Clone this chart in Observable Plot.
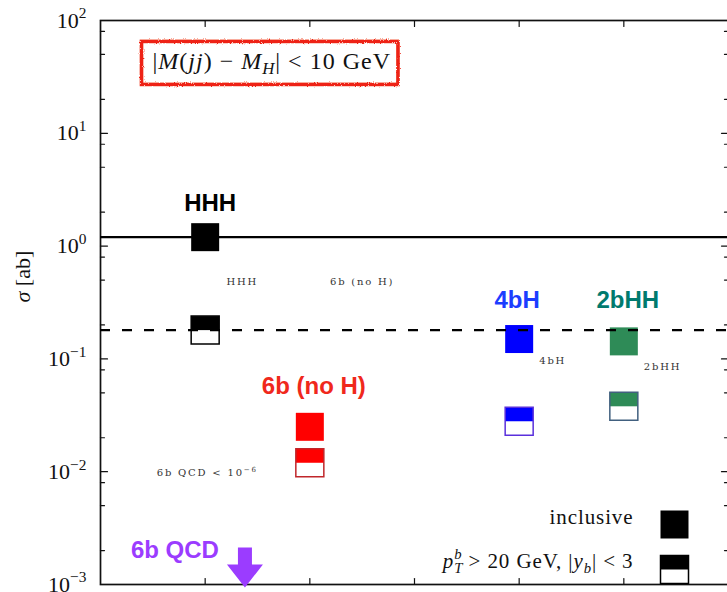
<!DOCTYPE html>
<html>
<head>
<meta charset="utf-8">
<script src="https://cdn.jsdelivr.net/npm/d3@7"></script>
<script src="https://cdn.jsdelivr.net/npm/@observablehq/plot@0.6"></script>
<style>
  html, body { margin: 0; padding: 0; background: #fff; }
  #chart svg { display: block; }
</style>
</head>
<body>
<div id="chart"></div>
<script>
// Cross sections (ab) per process, inclusive and with b-jet cuts
const processes = ["HHH", "6b (no H)", "4bH", "2bHH"];
const slots = [1, 2, 4, 5];
const inclusive = [1.2, 0.025, 0.15, 0.143];
const withCuts = [0.18, 0.012, 0.028, 0.038];

const fillColors = ["#000000", "#ff0000", "#0000ff", "#2e8b57"];
const edgeColors = ["#000000", "#c0262b", "#5a30dc", "#41607f"];
const titleColors = ["#000000", "#f0281c", "#1c3dff", "#007a6e"];
const qcdColor = "#9b3cff";

// Axis ticks
const majorTicks = [1e-3, 1e-2, 1e-1, 1e0, 1e1, 1e2];
const majorLabels = ["10^{−3}", "10^{−2}", "10^{−1}", "10^{0}", "10^{1}", "10^{2}"];
const minorTicks = [2e-3, 5e-3, 8e-3, 2e-2, 5e-2, 8e-2, 0.2, 0.5, 0.8, 2, 5, 8, 20, 50, 80];
const xTicks = [1, 2, 3, 4, 5];

// Small in-plot notes
const noteText = ["HHH", "6b (no H)", "4bH", "2bHH", "6b QCD < 10^{−6}"];
const noteX = [1.355, 2.5, 4.32, 5.37, 1.02];
const noteY = [0.478, 0.478, 0.0955, 0.0843, 0.0097];

// 6b QCD lies far below the plotted range
const qcdX = 1.38;
const qcdLabel = "6b QCD";

const cutLabel = "|$M$($jj$) − $M$_{$H$}| < 10 GeV";
const legendLabels = ["inclusive", "$p$_{$T$}^{$b$} > 20 GeV, |$y$_{$b$}| < 3"];
const yLabel = "$σ$ [ab]";

// Label offsets (px) for the process titles above their markers
const titleDy = [-34, -40, -39, -41];
const titleDx = [5, 4, -2, 4];

const serif = "'Liberation Serif', 'Times New Roman', serif";
const sans = "'Liberation Sans', Arial, Helvetica, sans-serif";

// Marker shapes
const SIDE = 28;
const R = SIDE / Math.sqrt(Math.PI);
const square = { draw(ctx, size) { const s = Math.sqrt(size); ctx.rect(-s / 2, -s / 2, s, s); } };
const upperHalf = { draw(ctx, size) { const s = Math.sqrt(size); ctx.rect(-s / 2, -s / 2, s, s / 2); } };
const downArrow = {
  draw(ctx, size) {
    const k = Math.sqrt(size) / SIDE;
    ctx.moveTo(-7 * k, -37 * k);
    ctx.lineTo(7 * k, -37 * k);
    ctx.lineTo(7 * k, -20 * k);
    ctx.lineTo(18 * k, -20 * k);
    ctx.lineTo(0, 3 * k);
    ctx.lineTo(-18 * k, -20 * k);
    ctx.lineTo(-7 * k, -20 * k);
    ctx.closePath();
  }
};
const tickShape = { draw(ctx, l) { ctx.moveTo(0, 0); ctx.lineTo(0, -l); } };

const idx = d3.range(processes.length);
const tickStyle = { stroke: "#111", strokeWidth: 1.2, anchor: "start", shape: tickShape };
const NOTE_SIZE = 10;

const marks = [
  Plot.frame({ stroke: "#111", strokeWidth: 1.7 }),
  // inward ticks on all four sides
  Plot.vector(majorTicks, { y: d => d, frameAnchor: "left", rotate: 90, length: 7, ...tickStyle }),
  Plot.vector(minorTicks, { y: d => d, frameAnchor: "left", rotate: 90, length: 4, ...tickStyle }),
  Plot.vector(majorTicks, { y: d => d, frameAnchor: "right", rotate: -90, length: 7, ...tickStyle }),
  Plot.vector(minorTicks, { y: d => d, frameAnchor: "right", rotate: -90, length: 4, ...tickStyle }),
  Plot.vector(xTicks, { x: d => d, frameAnchor: "bottom", rotate: 0, length: 6, ...tickStyle }),
  Plot.vector(xTicks, { x: d => d, frameAnchor: "top", rotate: 180, length: 6, ...tickStyle }),
  // y tick labels and title
  Plot.text(majorTicks, {
    y: d => d, text: (d, i) => majorLabels[i], frameAnchor: "left", dx: -14,
    textAnchor: "end", fontSize: 22, fontFamily: serif, fill: "#111"
  }),
  Plot.text([yLabel], { frameAnchor: "left", dx: -78, rotate: -90, fontSize: 22, fontFamily: serif, fill: "#111" }),
  // cut markers: white square, filled upper half, coloured outline
  Plot.dot(idx, { x: i => slots[i], y: i => withCuts[i], symbol: square, r: R, fill: "white" }),
  Plot.dot(idx, { x: i => slots[i], y: i => withCuts[i], symbol: upperHalf, r: R, fill: i => fillColors[i] }),
  Plot.dot(idx, { x: i => slots[i], y: i => withCuts[i], symbol: square, r: R, fill: "none", stroke: i => edgeColors[i], strokeWidth: 1.5 }),
  // inclusive markers
  Plot.dot(idx, { x: i => slots[i], y: i => inclusive[i], symbol: square, r: R, fill: i => fillColors[i] }),
  // reference lines at the HHH values
  Plot.ruleY([inclusive[0]], { stroke: "#000", strokeWidth: 2.2 }),
  Plot.ruleY([withCuts[0]], { stroke: "#000", strokeWidth: 2.2, strokeDasharray: "10,12" }),
  // process titles
  ...idx.map(i => Plot.text([processes[i]], {
    x: slots[i], y: inclusive[i], dx: titleDx[i], dy: titleDy[i],
    fill: titleColors[i], fontWeight: "bold", fontSize: 24, fontFamily: sans
  })),
  // 6b QCD arrow and title
  Plot.dot([qcdX], { x: d => d, frameAnchor: "bottom", symbol: downArrow, r: R, fill: qcdColor }),
  Plot.text([qcdLabel], { x: qcdX, frameAnchor: "bottom", dx: -70, dy: -27, fill: qcdColor, fontWeight: "bold", fontSize: 24, fontFamily: sans }),
  // small notes
  Plot.text(d3.range(noteText.length), {
    x: i => noteX[i], y: i => noteY[i], text: i => noteText[i],
    fontSize: NOTE_SIZE, fontFamily: "'DejaVu Serif', serif", fill: "#333"
  }),
  // mass window label (box added after render)
  Plot.text([cutLabel], { frameAnchor: "top-left", dx: 52, dy: 31, textAnchor: "start", fontSize: 24, fontFamily: serif, fill: "#111" }),
  // legend
  Plot.text([legendLabels[0]], { frameAnchor: "bottom-right", dx: -95, dy: -61, textAnchor: "end", fontSize: 21, fontFamily: serif, fill: "#111" }),
  Plot.text([legendLabels[1]], { frameAnchor: "bottom-right", dx: -95, dy: -17, textAnchor: "end", fontSize: 21, fontFamily: serif, fill: "#111" }),
  Plot.dot([0], { frameAnchor: "bottom-right", dx: -54, dy: -60, symbol: square, r: R, fill: "#000" }),
  Plot.dot([0], { frameAnchor: "bottom-right", dx: -54, dy: -15, symbol: square, r: R, fill: "white" }),
  Plot.dot([0], { frameAnchor: "bottom-right", dx: -54, dy: -15, symbol: upperHalf, r: R, fill: "#000" }),
  Plot.dot([0], { frameAnchor: "bottom-right", dx: -54, dy: -15, symbol: square, r: R, fill: "none", stroke: "#000", strokeWidth: 1.5 })
];

const chart = Plot.plot({
  width: 727,
  height: 592,
  marginLeft: 100,
  marginRight: -1,
  marginTop: 20,
  marginBottom: 8,
  x: { domain: [0, 6], axis: null },
  y: { type: "log", domain: [1e-3, 1e2], axis: null },
  color: { type: "identity" },
  style: { background: "white", fontFamily: serif },
  marks
});

document.getElementById("chart").append(chart);

const NS = "http://www.w3.org/2000/svg";
const allTexts = [...chart.querySelectorAll("text")];
const sizeOf = t => parseFloat(getComputedStyle(t).fontSize);
const boxText = allTexts.find(t => t.textContent === cutLabel);
// loose spacing for the small notes, the legend entries and the mass-window label
allTexts.filter(t => noteText.includes(t.textContent) && sizeOf(t) === NOTE_SIZE)
  .forEach(t => t.setAttribute("letter-spacing", "1.8"));
allTexts.filter(t => legendLabels.includes(t.textContent))
  .forEach(t => t.setAttribute("letter-spacing", "0.9"));
if (boxText) boxText.setAttribute("letter-spacing", "1");

// Turn "^{..}", "_{..}" and "$..$" markup into superscripts, subscripts and italics
function richify(textEl) {
  const src = textEl.textContent;
  if (!/[\^_]\{|\$/.test(src)) return;
  const fs = sizeOf(textEl) || 16;
  while (textEl.firstChild) textEl.removeChild(textEl.firstChild);
  let italic = false, level = 0, i = 0, buf = "";
  let lastSub = null;
  const offsetOf = s => (s > 0 ? -0.42 * fs : s < 0 ? 0.24 * fs : 0);
  const emit = (text, shift) => {
    if (!text) return null;
    const t = document.createElementNS(NS, "tspan");
    t.textContent = text;
    const target = offsetOf(shift);
    if (target !== level) { t.setAttribute("dy", (target - level).toFixed(2)); level = target; }
    if (shift) t.setAttribute("font-size", (0.7 * fs).toFixed(2));
    if (italic) t.setAttribute("font-style", "italic");
    textEl.appendChild(t);
    return t;
  };
  while (i < src.length) {
    const c = src[i];
    if (c === "$") { emit(buf, 0); buf = ""; italic = !italic; i++; lastSub = null; }
    else if ((c === "^" || c === "_") && src[i + 1] === "{") {
      emit(buf, 0); buf = "";
      const end = src.indexOf("}", i);
      const inner = src.slice(i + 2, end);
      const shift = c === "^" ? 1 : -1;
      const stackOn = (shift === 1 && lastSub && src[i - 1] === "}") ? lastSub : null;
      const made = [];
      let b = "";
      for (const ch of inner) {
        if (ch === "$") { const t = emit(b, shift); if (t) made.push(t); b = ""; italic = !italic; }
        else b += ch;
      }
      const t = emit(b, shift); if (t) made.push(t);
      if (stackOn && made.length) {
        const w = stackOn.reduce((s, el) => s + el.getComputedTextLength(), 0);
        made[0].setAttribute("dx", (-w).toFixed(2));
      }
      lastSub = shift === -1 ? made : null;
      i = end + 1;
    } else { buf += c; i++; lastSub = null; }
  }
  emit(buf, 0);
}
allTexts.forEach(richify);

// Rough red box around the mass-window label
function el(name, attrs, parent) {
  const e = document.createElementNS(NS, name);
  for (const k in attrs) e.setAttribute(k, attrs[k]);
  if (parent) parent.appendChild(e);
  return e;
}
const defs = el("defs", {});
chart.insertBefore(defs, chart.firstChild);
const filter = el("filter", { id: "rough-edge", x: "-10%", y: "-40%", width: "120%", height: "180%" }, defs);
el("feTurbulence", { type: "fractalNoise", baseFrequency: "1.4", numOctaves: "1", seed: "4", result: "noise" }, filter);
el("feDisplacementMap", { in: "SourceGraphic", in2: "noise", scale: "3", xChannelSelector: "R", yChannelSelector: "G" }, filter);

if (boxText) {
  const bb = boxText.getBBox();
  const cy = bb.y + bb.height / 2;
  const box = { x: bb.x - 11, y: cy - 21.5, width: bb.width + 18, height: 43 };
  const tf = boxText.getAttribute("transform");
  const parent = boxText.parentNode;
  const back = el("rect", { ...box, fill: "white", stroke: "none" });
  const edge = el("rect", { ...box, fill: "none", stroke: "#ee2412", "stroke-width": 3.6, filter: "url(#rough-edge)" });
  if (tf) { back.setAttribute("transform", tf); edge.setAttribute("transform", tf); }
  parent.insertBefore(back, boxText);
  parent.insertBefore(edge, boxText);
}
</script>
</body>
</html>
